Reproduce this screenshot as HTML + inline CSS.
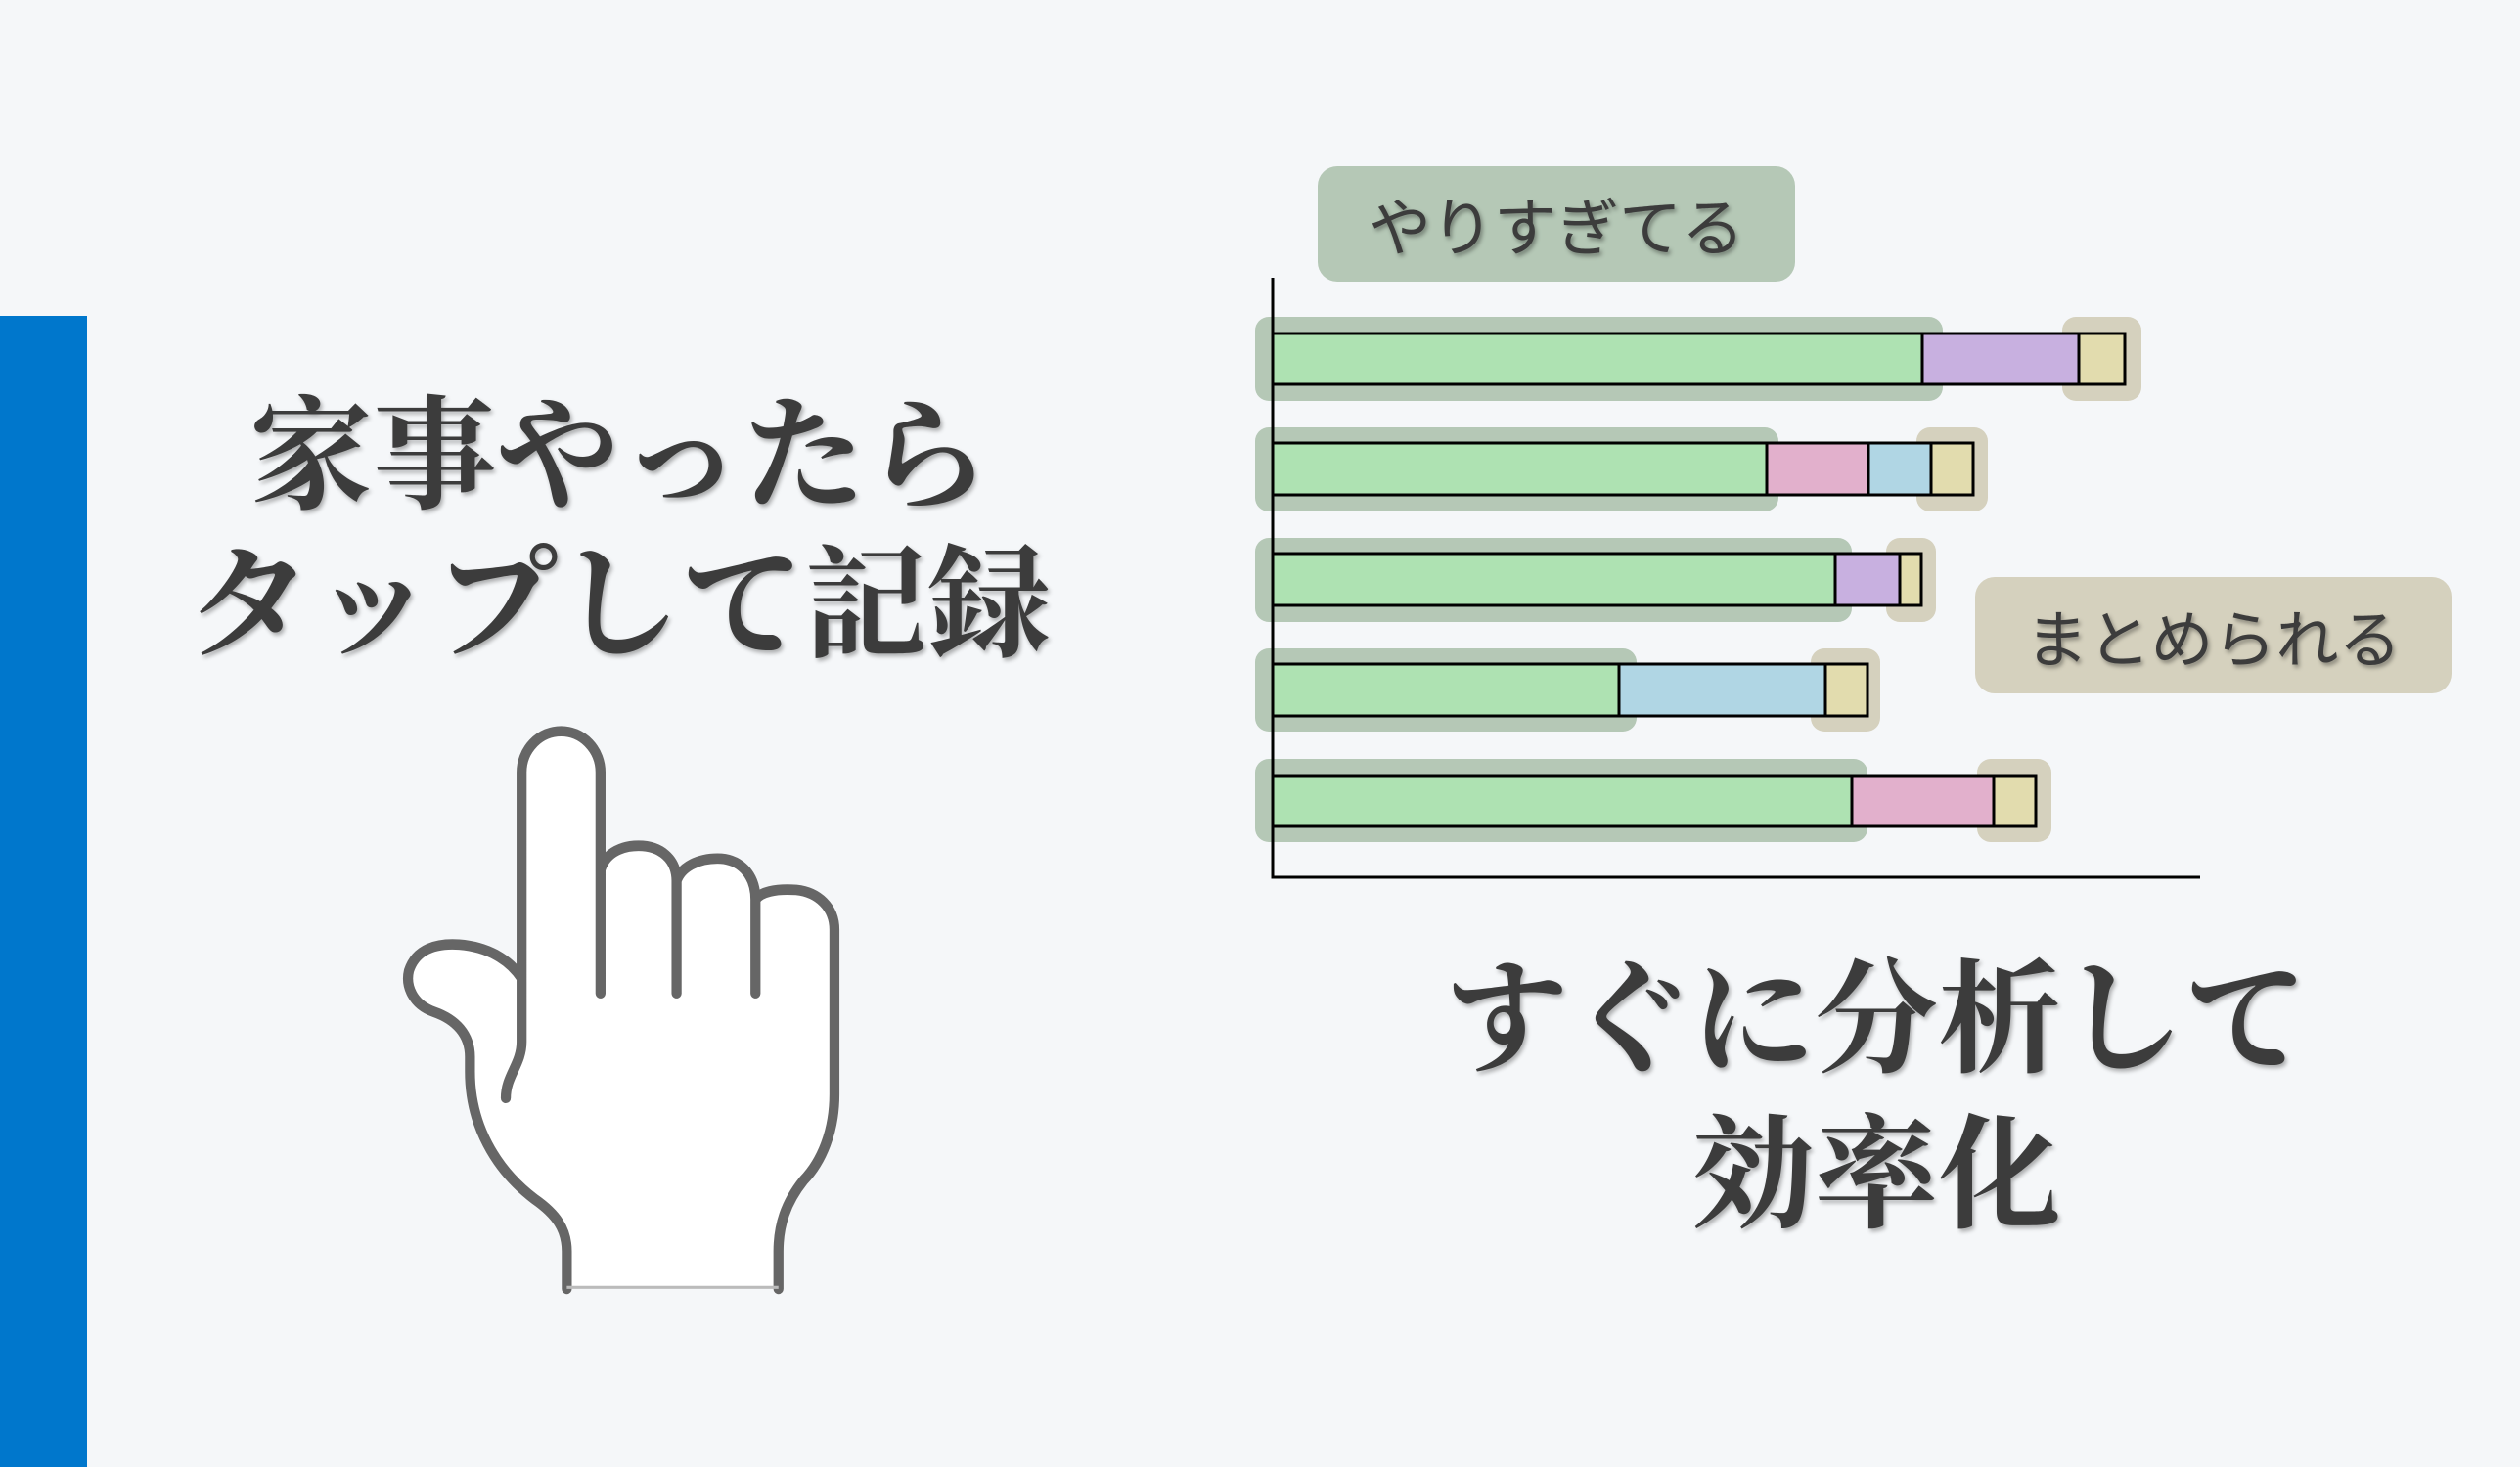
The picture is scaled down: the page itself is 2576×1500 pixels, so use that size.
<!DOCTYPE html>
<html><head><meta charset="utf-8"><style>
html,body{margin:0;padding:0}
body{width:2576px;height:1500px;background:#f5f7f9;position:relative;overflow:hidden;font-family:"Liberation Serif","Noto Serif CJK SC",serif;}
.t{position:absolute;color:#3c3c3c;font-weight:700;white-space:nowrap;text-align:center;text-shadow:2px 3px 4px rgba(0,0,0,0.3);line-height:1}
.lbl{position:absolute;border-radius:20px;display:flex;align-items:center;justify-content:center;color:#3c3c3c;font-family:"Liberation Sans","Noto Sans CJK JP",sans-serif;font-size:64px;text-shadow:2px 3px 4px rgba(0,0,0,0.35)}
</style></head><body>
<div style="position:absolute;left:0;top:323px;width:89px;height:1177px;background:#0077cc"></div>
<div class="t" style="left:133px;width:1000px;top:406px;font-size:126px">家事やったら</div>
<div class="t" style="left:133px;width:1000px;top:558px;font-size:126px">タップして記録</div>
<div class="t" style="left:1418px;width:1000px;top:982px;font-size:126px">すぐに分析して</div>
<div class="t" style="left:1418px;width:1000px;top:1141px;font-size:126px">効率化</div>

<svg width="2576" height="1500" style="position:absolute;left:0;top:0">
<g transform="translate(0,300) scale(0.7334,0.7653)">
<path d="M790 1330 L790 1280 C790 1250 775 1230 745 1210 C690 1170 655 1110 655 1040 L655 1020 C655 990 635 970 605 960 C575 950 565 925 570 905 C580 875 610 868 640 870 C680 873 710 890 727 915 L727 640 A55 55 0 0 1 837 640 L837 770 C845 745 870 738 890 738 C920 738 943 755 943 785 C950 765 975 755 1000 755 C1030 755 1053 775 1053 810 C1060 800 1080 795 1110 797 C1140 800 1163 820 1163 850 L1163 1070 C1163 1120 1145 1160 1120 1185 C1095 1215 1085 1245 1085 1280 L1085 1330 Z" fill="#fff"/>
<path d="M790 1330 L790 1280 C790 1250 775 1230 745 1210 C690 1170 655 1110 655 1040 L655 1020 C655 990 635 970 605 960 C575 950 565 925 570 905 C580 875 610 868 640 870 C680 873 710 890 727 915 L727 640 A55 55 0 0 1 837 640 L837 935 M837 770 C845 745 870 738 890 738 C920 738 943 755 943 785 L943 935 M943 785 C950 765 975 755 1000 755 C1030 755 1053 775 1053 810 L1053 935 M1053 810 C1060 800 1080 795 1110 797 C1140 800 1163 820 1163 850 L1163 1070 C1163 1120 1145 1160 1120 1185 C1095 1215 1085 1245 1085 1280 L1085 1330 M727 915 L727 1000 C727 1030 705 1045 705 1075" fill="none" stroke="#666" stroke-width="14" stroke-linecap="round"/>
<path d="M790 1328 L1085 1328" stroke="#bbb" stroke-width="4"/>
</g>
<g fill="#b5c8b6">
<rect x="1283" y="324" width="703" height="86" rx="14"/>
<rect x="1283" y="437" width="535" height="86" rx="14"/>
<rect x="1283" y="550" width="610" height="86" rx="14"/>
<rect x="1283" y="663" width="390" height="85" rx="14"/>
<rect x="1283" y="776" width="626" height="85" rx="14"/>
</g>
<g fill="#d5d1be">
<rect x="2108" y="324" width="81" height="86" rx="14"/>
<rect x="1959" y="437" width="73" height="86" rx="14"/>
<rect x="1928" y="550" width="51" height="86" rx="14"/>
<rect x="1851" y="663" width="71" height="85" rx="14"/>
<rect x="2021" y="776" width="76" height="85" rx="14"/>
</g>
<g stroke="#000" stroke-width="3">
<rect x="1301" y="341" width="664" height="52" fill="#aee2b2"/>
<rect x="1965" y="341" width="160" height="52" fill="#c8b0e0"/>
<rect x="2125" y="341" width="47" height="52" fill="#e2dcae"/>
<rect x="1301" y="453" width="505" height="53" fill="#aee2b2"/>
<rect x="1806" y="453" width="104" height="53" fill="#e2b0cc"/>
<rect x="1910" y="453" width="64" height="53" fill="#b0d6e4"/>
<rect x="1974" y="453" width="43" height="53" fill="#e2dcae"/>
<rect x="1301" y="566" width="575" height="53" fill="#aee2b2"/>
<rect x="1876" y="566" width="66" height="53" fill="#c8b0e0"/>
<rect x="1942" y="566" width="22" height="53" fill="#e2dcae"/>
<rect x="1301" y="679" width="354" height="53" fill="#aee2b2"/>
<rect x="1655" y="679" width="211" height="53" fill="#b0d6e4"/>
<rect x="1866" y="679" width="43" height="53" fill="#e2dcae"/>
<rect x="1301" y="793" width="592" height="52" fill="#aee2b2"/>
<rect x="1893" y="793" width="145" height="52" fill="#e2b0cc"/>
<rect x="2038" y="793" width="43" height="52" fill="#e2dcae"/>
</g>
<path d="M1301 284 L1301 897 L2249 897" fill="none" stroke="#000" stroke-width="3"/>
</svg>
<div class="lbl" style="left:1347px;top:170px;width:488px;height:118px;background:#b5c8b6">やりすぎてる</div>
<div class="lbl" style="left:2019px;top:590px;width:487px;height:119px;background:#d5d1be">まとめられる</div>
</body></html>
